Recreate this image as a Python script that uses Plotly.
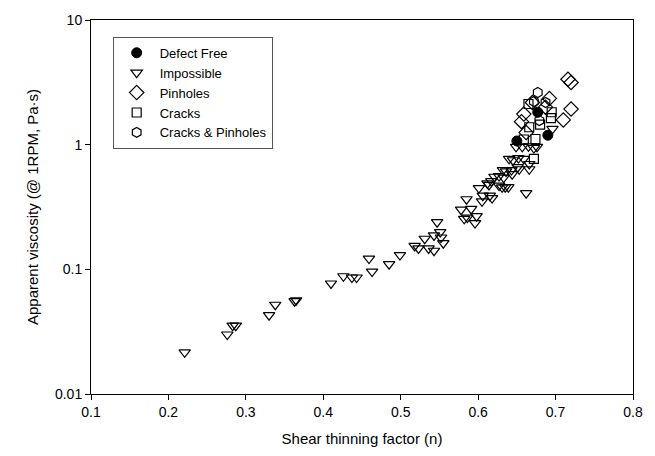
import plotly.graph_objects as go

# ---- data ----
defect_free_n = [0.650, 0.677, 0.690]
defect_free_v = [1.07, 1.82, 1.19]

impossible_n = [0.221, 0.276, 0.283, 0.287, 0.330, 0.338, 0.363, 0.365, 0.410, 0.426,
                0.437, 0.443, 0.459, 0.463, 0.485, 0.499, 0.518, 0.523, 0.531, 0.536,
                0.543, 0.547, 0.543, 0.551, 0.552, 0.555, 0.578, 0.585, 0.582, 0.586,
                0.591, 0.596, 0.598, 0.601, 0.605, 0.606, 0.614, 0.615, 0.618, 0.612,
                0.617, 0.627, 0.631, 0.621, 0.627, 0.633, 0.644, 0.651, 0.632, 0.636,
                0.643, 0.653, 0.666, 0.666, 0.640, 0.645, 0.652, 0.659, 0.649, 0.657,
                0.665, 0.672, 0.676, 0.662, 0.696, 0.635, 0.639]
impossible_v = [0.0216, 0.030, 0.0353, 0.0353, 0.0429, 0.052, 0.0555, 0.0565, 0.077, 0.088,
                0.086, 0.086, 0.122, 0.096, 0.110, 0.130, 0.154, 0.147, 0.176, 0.147,
                0.141, 0.239, 0.187, 0.199, 0.180, 0.162, 0.301, 0.365, 0.254, 0.260,
                0.305, 0.235, 0.267, 0.448, 0.351, 0.390, 0.475, 0.390, 0.373, 0.490,
                0.510, 0.470, 0.455, 0.553, 0.560, 0.545, 0.580, 0.660, 0.625, 0.610,
                0.625, 0.635, 0.635, 0.700, 0.770, 0.750, 0.780, 0.770, 0.960, 0.960,
                0.970, 0.940, 0.960, 0.408, 1.340, 0.456, 0.456]

pinholes_n = [0.716, 0.720, 0.720, 0.710, 0.692, 0.656, 0.659, 0.670, 0.687, 0.662]
pinholes_v = [3.35, 3.15, 1.93, 1.58, 2.35, 1.53, 1.76, 2.18, 2.00, 1.25]

cracks_n = [0.666, 0.659, 0.674, 0.695, 0.694, 0.672, 0.665, 0.680]
cracks_v = [1.38, 1.10, 1.11, 1.82, 1.63, 0.77, 2.12, 1.45]

cp_n = [0.677, 0.672, 0.687, 0.679]
cp_v = [2.62, 2.22, 2.18, 1.56]

x_ticks = [0.1, 0.2, 0.3, 0.4, 0.5, 0.6, 0.7, 0.8]
y_ticks = [0.01, 0.1, 1, 10]
y_ticktext = ["0.01", "0.1", "1", "10"]

FONT = "Liberation Sans, Arial, sans-serif"
line = dict(color="black", width=1.2)

fig = go.Figure()
fig.add_trace(go.Scatter(x=defect_free_n, y=defect_free_v, mode="markers", name="Defect Free",
                         marker=dict(symbol="circle", size=10, color="black", line=dict(color="black", width=1))))
fig.add_trace(go.Scatter(x=impossible_n, y=impossible_v, mode="markers", name="Impossible",
                         marker=dict(symbol="triangle-down-open", size=10, color="black", line=line)))
fig.add_trace(go.Scatter(x=pinholes_n, y=pinholes_v, mode="markers", name="Pinholes",
                         marker=dict(symbol="diamond-open", size=11, color="black", line=line)))
fig.add_trace(go.Scatter(x=cracks_n, y=cracks_v, mode="markers", name="Cracks",
                         marker=dict(symbol="square-open", size=9, color="black", line=line)))
fig.add_trace(go.Scatter(x=cp_n, y=cp_v, mode="markers", name="Cracks & Pinholes",
                         marker=dict(symbol="hexagon-open", size=10, color="black", line=line)))

fig.update_layout(
    width=655, height=456,
    margin=dict(l=91, r=21, t=15, b=62),
    paper_bgcolor="white", plot_bgcolor="white",
    font=dict(family=FONT, color="black", size=13),
    showlegend=True,
    legend=dict(x=0.04, y=0.955, xanchor="left", yanchor="top",
                bordercolor="#555", borderwidth=1, bgcolor="white",
                font=dict(family=FONT, size=13), tracegroupgap=0,
                itemsizing="trace", itemwidth=36),
)
fig.update_xaxes(range=[0.1, 0.8], tickvals=x_ticks, ticktext=[str(t) for t in x_ticks],
                 showline=True, linecolor="black", linewidth=1, mirror=True,
                 ticks="outside", ticklen=5, tickcolor="black", showgrid=False, zeroline=False,
                 title=dict(text="Shear thinning factor (n)", font=dict(size=15), standoff=14),
                 tickfont=dict(size=14))
fig.update_yaxes(type="log", range=[-2, 1], tickvals=y_ticks, ticktext=y_ticktext,
                 showline=True, linecolor="black", linewidth=1, mirror=True,
                 ticks="outside", ticklen=5, tickcolor="black", showgrid=False, zeroline=False,
                 title=dict(text="Apparent viscosity (@ 1RPM, Pa·s)", font=dict(size=15), standoff=12),
                 tickfont=dict(size=14))

fig.write_html("out.html")
